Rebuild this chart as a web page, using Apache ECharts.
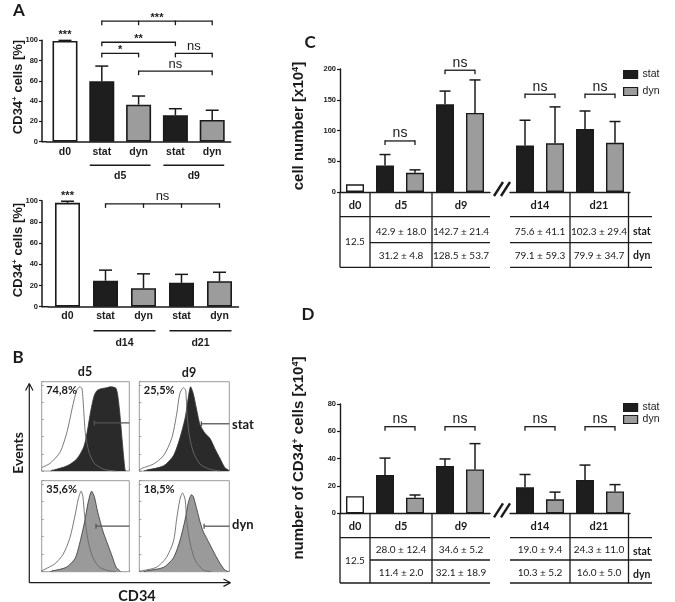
<!DOCTYPE html>
<html><head><meta charset="utf-8">
<script src="https://cdn.jsdelivr.net/npm/echarts@6/dist/echarts.min.js"></script>
<style>html,body{margin:0;padding:0;background:#fff}#c{width:675px;height:602px}</style>
</head><body><div id="c"></div>
<script>
// ================= DATA =================
// Panel A (top): % CD34+ cells, d0 / d5 / d9
const aTopCats = ['d0', 'stat', 'dyn', 'stat', 'dyn'];
const aTopGroups = ['', 'd5', 'd5', 'd9', 'd9'];
const aTopMean = [99.2, 59.5, 36.5, 26.0, 21.5];
const aTopErr = [0.6, 15.0, 8.5, 6.5, 9.5];
const aTopBrackets = [[1, 4, 118.7], [1, 3, 98], [1, 2, 87], [3, 4, 87], [2, 4, 69.5]];
const aTopBracketText = ['***', '**', '*', 'ns', 'ns'];
const aTopBracketTicks = [[1, 2, 3, 4], [1, 3], [1, 2], [3, 4], [2, 4]];
// Panel A (bottom): d0 / d14 / d21
const aBotCats = ['d0', 'stat', 'dyn', 'stat', 'dyn'];
const aBotGroups = ['', 'd14', 'd14', 'd21', 'd21'];
const aBotMean = [98.0, 24.5, 17.5, 22.5, 24.0];
const aBotErr = [1.5, 10.0, 13.5, 8.0, 8.5];
const aBotBrackets = [[1, 4, 97]];
const aBotBracketText = ['ns'];
const aBotBracketTicks = [[1, 2, 3, 4]];
const aD0Sig = '***';

// Panels C / D
const tableDays = ['d0', 'd5', 'd9', 'd14', 'd21'];
const timepoints = ['d5', 'd9', 'd14', 'd21'];
const cD0 = 12.5;
const cStatMean = [42.9, 142.7, 75.6, 102.3];
const cStatSD = [18.0, 21.4, 41.1, 29.4];
const cDynMean = [31.2, 128.5, 79.1, 79.9];
const cDynSD = [4.8, 53.7, 59.3, 34.7];
const cBracketY = [83, 198, 159, 159];
const cYTicks = [0, 50, 100, 150, 200];

const dD0 = 12.5;
const dStatMean = [28.0, 34.6, 19.0, 24.3];
const dStatSD = [12.4, 5.2, 9.4, 11.0];
const dDynMean = [11.4, 32.1, 10.3, 16.0];
const dDynSD = [2.0, 18.9, 5.2, 5.0];
const dBracketY = [63.4, 63.4, 63.4, 63.4];
const dYTicks = [0, 20, 40, 60, 80];
const sigText = 'ns';

// Panel B: flow cytometry histograms (relative CD34 intensity, relative events)
const bPercent = ['74,8%', '25,5%', '35,6%', '18,5%'];
const isoD5stat = [[0,0.04],[0.096,0.09],[0.21,0.22],[0.29,0.46],[0.35,0.74],[0.40,0.94],[0.435,0.98],[0.46,0.96],[0.48,0.70],[0.50,0.42],[0.54,0.22],[0.60,0.09],[0.71,0.02],[0.85,0]];
const cd34D5stat = [[0.10,0],[0.135,0.01],[0.29,0.06],[0.40,0.14],[0.48,0.28],[0.52,0.46],[0.56,0.70],[0.60,0.88],[0.635,0.94],[0.69,0.96],[0.74,0.97],[0.79,0.98],[0.85,0.96],[0.885,0.74],[0.92,0.34],[0.95,0.02],[0.96,0]];
const isoD9stat = [[0,0.01],[0.026,0.03],[0.155,0.08],[0.27,0.18],[0.36,0.38],[0.415,0.66],[0.45,0.90],[0.49,0.97],[0.515,0.94],[0.53,0.66],[0.555,0.42],[0.6,0.22],[0.675,0.08],[0.785,0.02],[0.9,0]];
const cd34D9stat = [[0.05,0],[0.08,0.01],[0.27,0.06],[0.38,0.18],[0.45,0.38],[0.51,0.62],[0.545,0.86],[0.57,0.98],[0.6,0.90],[0.64,0.70],[0.675,0.54],[0.73,0.44],[0.785,0.38],[0.84,0.26],[0.9,0.14],[0.95,0.04],[0.99,0.01],[1,0]];
const isoD5dyn = [[0,0.01],[0.02,0.02],[0.15,0.09],[0.245,0.2],[0.32,0.38],[0.38,0.64],[0.415,0.82],[0.45,0.92],[0.47,0.86],[0.49,0.64],[0.53,0.35],[0.585,0.16],[0.66,0.05],[0.77,0.01],[0.85,0]];
const cd34D5dyn = [[0.1,0],[0.13,0.01],[0.28,0.05],[0.38,0.15],[0.43,0.31],[0.49,0.57],[0.53,0.79],[0.57,0.92],[0.6,0.86],[0.64,0.68],[0.7,0.46],[0.755,0.31],[0.81,0.16],[0.85,0.05],[0.89,0.01],[0.9,0]];
const isoD9dyn = [[0,0.005],[0.026,0.01],[0.19,0.05],[0.30,0.16],[0.38,0.35],[0.415,0.6],[0.45,0.82],[0.48,0.9],[0.51,0.82],[0.525,0.6],[0.56,0.35],[0.62,0.13],[0.71,0.02],[0.8,0]];
const cd34D9dyn = [[0.05,0],[0.08,0.01],[0.27,0.05],[0.38,0.16],[0.45,0.35],[0.51,0.6],[0.545,0.79],[0.58,0.88],[0.6,0.86],[0.64,0.71],[0.675,0.57],[0.71,0.46],[0.75,0.38],[0.785,0.31],[0.84,0.2],[0.9,0.09],[0.95,0.02],[0.99,0]];
const bGateStart = [0.6, 0.69, 0.62, 0.72];
const bGateLevel = [0.56, 0.55, 0.52, 0.52];

// ================= STYLE / LAYOUT =================
const AX = '#1a1a1a';
const STAT = '#1e1e1e', DYN = '#9c9c9c';
const FONT = 'Liberation Sans';
const CAL = 'Lato';

const grids = [], xAxes = [], yAxes = [], series = [], graphics = [];
function addGrid(g, x, y) {
  grids.push(Object.assign({ outerBoundsMode: 'none', containLabel: false }, g));
  const i = grids.length - 1;
  xAxes.push(Object.assign({ gridIndex: i }, x));
  yAxes.push(Object.assign({ gridIndex: i }, y));
  return i;
}
function txt(x, y, text, o) {
  o = o || {};
  graphics.push({
    type: 'text', x: x, y: y, rotation: o.rot || 0, z: 10,
    style: {
      text: text, fill: o.color || AX, align: o.align || 'center', verticalAlign: o.va || 'middle',
      fontFamily: o.family || FONT, fontWeight: o.weight || 'normal', fontSize: o.size || 10,
      rich: o.rich
    }
  });
}
function gline(x1, y1, x2, y2, w, c) {
  graphics.push({ type: 'line', z: 10, shape: { x1, y1, x2, y2 }, style: { stroke: c || AX, lineWidth: w || 1 } });
}

function errSeries(gi, data, capHalf) {
  return {
    type: 'custom', xAxisIndex: gi, yAxisIndex: gi, data: data, clip: false, z: 3,
    renderItem(params, api) {
      const x = api.value(0), m = api.value(1), e = api.value(2);
      const p0 = api.coord([x, m]), p1 = api.coord([x, m + e]);
      return { type: 'group', children: [
        { type: 'line', shape: { x1: p0[0], y1: p0[1], x2: p1[0], y2: p1[1] }, style: { stroke: AX, lineWidth: 1.5 } },
        { type: 'line', shape: { x1: p1[0] - capHalf, y1: p1[1], x2: p1[0] + capHalf, y2: p1[1] }, style: { stroke: AX, lineWidth: 1.5 } }
      ] };
    }
  };
}
function bracketSeries(gi, br, texts, ticks, o) {
  return {
    type: 'custom', xAxisIndex: gi, yAxisIndex: gi, clip: false, z: 3,
    data: br.map(b => [b[0], b[2], b[1]]),
    renderItem(params, api) {
      const i = params.dataIndex, b = br[i];
      const p1 = api.coord([b[0], b[2]]), p2 = api.coord([b[1], b[2]]);
      const ch = [{ type: 'line', shape: { x1: p1[0], y1: p1[1], x2: p2[0], y2: p2[1] }, style: { stroke: AX, lineWidth: 1.3 } }];
      ticks[i].forEach(t => {
        const p = api.coord([t, b[2]]);
        ch.push({ type: 'line', shape: { x1: p[0], y1: p[1] - 0.6, x2: p[0], y2: p[1] + o.tick }, style: { stroke: AX, lineWidth: 1.3 } });
      });
      const star = texts[i].indexOf('*') >= 0;
      ch.push({ type: 'text', x: (p1[0] + p2[0]) / 2, y: p1[1] - (star ? o.starGap : o.nsGap),
        style: { text: texts[i], align: 'center', verticalAlign: 'middle', fontFamily: FONT,
          fontSize: star ? o.starSize : o.nsSize, fontWeight: star ? 'bold' : 'normal', fill: AX } });
      return { type: 'group', children: ch };
    }
  };
}

// ---------- Panel A ----------
function panelA(cats, groups, mean, err, br, brText, brTicks, g) {
  const keys = cats.map((c, i) => (groups[i] ? groups[i] + ' ' : '') + c);
  const gi = addGrid({ left: g.left, top: g.top, width: g.width, height: g.height },
    { type: 'category', data: keys, axisLine: { lineStyle: { color: AX, width: 1.5 } }, axisTick: { show: false },
      axisLabel: { interval: 0, formatter: v => v.split(' ').pop(), fontFamily: FONT, fontWeight: 'bold', fontSize: 10.5, color: AX, margin: g.labelMargin } },
    { type: 'value', min: 0, max: 100, interval: 20, offset: g.yOffset,
      axisLine: { show: true, lineStyle: { color: AX, width: 1.5 } }, axisTick: { show: true, length: 3, lineStyle: { color: AX, width: 1.2 } },
      axisLabel: { fontFamily: FONT, fontWeight: 'bold', fontSize: 7.5, color: AX, margin: 4 }, splitLine: { show: false } });
  series.push({
    type: 'bar', xAxisIndex: gi, yAxisIndex: gi, barWidth: g.barWidth, z: 2,
    data: mean.map((m, i) => ({
      value: m,
      itemStyle: { color: cats[i] === 'd0' ? '#ffffff' : (cats[i] === 'stat' ? STAT : DYN), borderColor: AX, borderWidth: 1.6 },
      label: i === 0 ? { show: true, position: 'top', distance: g.sigDist, formatter: aD0Sig, fontFamily: FONT, fontWeight: 'bold', fontSize: 11, color: AX } : { show: false }
    }))
  });
  series.push(errSeries(gi, mean.map((m, i) => [i, m, err[i]]), 6.5));
  series.push(bracketSeries(gi, br, brText, brTicks, { tick: 4, starGap: 3.5, nsGap: 7, starSize: 11, nsSize: 13 }));
  // group underline + label
  const spans = [];
  groups.forEach((gname, i) => {
    if (!gname) return;
    const last = spans[spans.length - 1];
    if (last && last.name === gname) last.end = i; else spans.push({ name: gname, start: i, end: i });
  });
  series.push({
    type: 'custom', xAxisIndex: gi, yAxisIndex: gi, clip: false, z: 3,
    data: spans.map(s => [s.start, 0, s.end]),
    renderItem(params, api) {
      const s = spans[params.dataIndex];
      const p1 = api.coord([s.start, 0]), p2 = api.coord([s.end, 0]);
      const y = p1[1] + g.lineOff;
      return { type: 'group', children: [
        { type: 'line', shape: { x1: p1[0] - 12, y1: y, x2: p2[0] + 12, y2: y }, style: { stroke: AX, lineWidth: 1.4 } },
        { type: 'text', x: (p1[0] + p2[0]) / 2, y: p1[1] + g.labelOff, style: { text: s.name, align: 'center', verticalAlign: 'middle', fontFamily: FONT, fontWeight: 'bold', fontSize: 10.5, fill: AX } }
      ] };
    }
  });
  // join x axis to offset y axis
  gline(g.left - g.yOffset, g.top + g.height, g.left, g.top + g.height, 1.5);
}
panelA(aTopCats, aTopGroups, aTopMean, aTopErr, aTopBrackets, aTopBracketText, aTopBracketTicks,
  { left: 46.6, top: 40.2, width: 184, height: 101.5, yOffset: 4.6, barWidth: 25, labelMargin: 5, sigDist: 1, lineOff: 23.5, labelOff: 34.5 });
panelA(aBotCats, aBotGroups, aBotMean, aBotErr, aBotBrackets, aBotBracketText, aBotBracketTicks,
  { left: 48.5, top: 200.7, width: 190, height: 106, yOffset: 6.5, barWidth: 25, labelMargin: 4, sigDist: 1, lineOff: 24, labelOff: 36 });

// ---------- Panels C & D ----------
function panelCD(top, height, max, interval, d0, sMean, sSD, yMean, ySD, brY, legendTop, legendGap) {
  const yBase = { type: 'value', min: 0, max: max, interval: interval, splitLine: { show: false } };
  const gl = addGrid({ left: 340, top: top, width: 150, height: height },
    { type: 'category', data: ['d0', 'd5 stat', 'd5 dyn', 'd9 stat', 'd9 dyn'], axisLine: { lineStyle: { color: AX, width: 1.4 } }, axisTick: { show: false }, axisLabel: { show: false } },
    Object.assign({}, yBase, { axisLine: { show: true, lineStyle: { color: AX, width: 1.4 } }, axisTick: { show: true, length: 3, lineStyle: { color: AX, width: 1.2 } },
      axisLabel: { fontFamily: FONT, fontWeight: 'bold', fontSize: 7.5, color: AX, margin: 4 } }));
  const gr = addGrid({ left: 510, top: top, width: 120, height: height },
    { type: 'category', data: ['d14 stat', 'd14 dyn', 'd21 stat', 'd21 dyn'], axisLine: { lineStyle: { color: AX, width: 1.4 } }, axisTick: { show: false }, axisLabel: { show: false } },
    Object.assign({}, yBase, { show: false }));
  const bw = 18;
  const barStyle = c => ({ color: c, borderColor: AX, borderWidth: 1.4 });
  // slot mapping
  const left = { stat: [null, null, null, null, null], dyn: [null, null, null, null, null] };
  const right = { stat: [null, null, null, null], dyn: [null, null, null, null] };
  const errL = [], errR = [], brL = [], brR = [];
  timepoints.forEach((t, i) => {
    if (i < 2) {
      const s = 1 + 2 * i;
      left.stat[s] = sMean[i]; left.dyn[s + 1] = yMean[i];
      errL.push([s, sMean[i], sSD[i]], [s + 1, yMean[i], ySD[i]]);
      brL.push([s, s + 1, brY[i]]);
    } else {
      const s = 2 * (i - 2);
      right.stat[s] = sMean[i]; right.dyn[s + 1] = yMean[i];
      errR.push([s, sMean[i], sSD[i]], [s + 1, yMean[i], ySD[i]]);
      brR.push([s, s + 1, brY[i]]);
    }
  });
  series.push({ name: 'd0', type: 'bar', xAxisIndex: gl, yAxisIndex: gl, barWidth: bw, barGap: '-100%', itemStyle: barStyle('#fff'), data: [d0, null, null, null, null] });
  series.push({ name: 'stat', type: 'bar', xAxisIndex: gl, yAxisIndex: gl, barWidth: bw, barGap: '-100%', itemStyle: barStyle(STAT), data: left.stat });
  series.push({ name: 'dyn', type: 'bar', xAxisIndex: gl, yAxisIndex: gl, barWidth: bw, barGap: '-100%', itemStyle: barStyle(DYN), data: left.dyn });
  series.push({ name: 'stat', type: 'bar', xAxisIndex: gr, yAxisIndex: gr, barWidth: bw, barGap: '-100%', itemStyle: barStyle(STAT), data: right.stat });
  series.push({ name: 'dyn', type: 'bar', xAxisIndex: gr, yAxisIndex: gr, barWidth: bw, barGap: '-100%', itemStyle: barStyle(DYN), data: right.dyn });
  series.push(errSeries(gl, errL, 5.5));
  series.push(errSeries(gr, errR, 5.5));
  const bo = { tick: 4, starGap: 3, nsGap: 7.5, starSize: 11, nsSize: 14 };
  series.push(bracketSeries(gl, brL, brL.map(() => sigText), brL.map(b => [b[0], b[1]]), bo));
  series.push(bracketSeries(gr, brR, brR.map(() => sigText), brR.map(b => [b[0], b[1]]), bo));
  return { legend: {
    data: ['stat', 'dyn'], left: 623, top: legendTop, orient: 'vertical', icon: 'rect', itemWidth: 14, itemHeight: 8,
    itemGap: legendGap, itemStyle: { borderColor: AX, borderWidth: 1.2 }, selectedMode: false,
    textStyle: { fontFamily: FONT, fontSize: 10.5, color: AX, padding: [0, 0, 0, 0] }, padding: 0
  } };
}
const lc = panelCD(69, 123, 200, 50, cD0, cStatMean, cStatSD, cDynMean, cDynSD, cBracketY, 69, 6);
const ld = panelCD(404, 109.3, 80, 20, dD0, dStatMean, dStatSD, dDynMean, dDynSD, dBracketY, 402, 1);

// tables
function table(y0, r, d0, sMean, sSD, yMean, ySD) {
  [340, 370, 432, 570, 628.5].forEach(x => gline(x, y0, x, r.l3, 1.3));
  [[r.l1, 340], [r.l2, 370], [r.l3, 340]].forEach(([y, x0]) => { gline(x0, y, 490, y, 1.3); gline(510, y, 652, y, 1.3); });
  const cols = [355, 401, 461, 540, 599];
  tableDays.forEach((d, i) => txt(cols[i], r.hdr, d, { family: CAL, weight: 'bold', size: 11 }));
  txt(cols[0], (r.l1 + r.l3) / 2, d0.toFixed(1), { family: CAL, size: 10 });
  timepoints.forEach((t, i) => {
    txt(cols[i + 1], r.s, sMean[i].toFixed(1) + ' \u00b1 ' + sSD[i].toFixed(1), { family: CAL, size: 10 });
    txt(cols[i + 1], r.d, yMean[i].toFixed(1) + ' \u00b1 ' + ySD[i].toFixed(1), { family: CAL, size: 10 });
  });
  txt(633, r.s + (r.lblShift || 0), 'stat', { family: CAL, weight: 'bold', size: 10.5, align: 'left' });
  txt(633, r.d + (r.lblShift || 0), 'dyn', { family: CAL, weight: 'bold', size: 10.5, align: 'left' });
  // axis break marks
  const yb = y0 - 3;
  [0, 7].forEach(dx => gline(494 + dx, yb + 7, 503 + dx, yb - 7, 2.4));
}
table(192, { hdr: 205, l1: 216.7, s: 231.7, l2: 242.7, d: 255.7, l3: 267.3 }, cD0, cStatMean, cStatSD, cDynMean, cDynSD);
table(513.3, { hdr: 526.7, l1: 537.7, s: 550, l2: 560, d: 573, l3: 583, lblShift: 2 }, dD0, dStatMean, dStatSD, dDynMean, dDynSD);

// ---------- Panel B ----------
const bBoxes = [
  { left: 41.7, top: 381.7, width: 87.6, height: 89.3, iso: isoD5stat, pos: cd34D5stat, fill: '#2a2a2a' },
  { left: 139.3, top: 381.7, width: 90, height: 89.3, iso: isoD9stat, pos: cd34D9stat, fill: '#2a2a2a' },
  { left: 41.7, top: 480.7, width: 87.6, height: 91, iso: isoD5dyn, pos: cd34D5dyn, fill: '#9a9a9a' },
  { left: 139.3, top: 480.7, width: 90, height: 91, iso: isoD9dyn, pos: cd34D9dyn, fill: '#9a9a9a' }
];
bBoxes.forEach((b, k) => {
  const gi = addGrid({ left: b.left, top: b.top, width: b.width, height: b.height, show: true, borderColor: '#9a9a9a', borderWidth: 1, backgroundColor: '#fff' },
    { type: 'value', min: 0, max: 1, interval: 0.125, axisLabel: { show: false }, axisLine: { show: false }, splitLine: { show: false },
      axisTick: { show: true, inside: true, length: 2, lineStyle: { color: '#888', width: 0.8 } } },
    { type: 'value', min: 0, max: 1.04, interval: 0.2, axisLabel: { show: false }, axisLine: { show: false }, splitLine: { show: false },
      axisTick: { show: true, inside: true, length: 2, lineStyle: { color: '#888', width: 0.8 } } });
  series.push({ type: 'line', xAxisIndex: gi, yAxisIndex: gi, data: b.pos, showSymbol: false, smooth: 0.25, z: 2,
    lineStyle: { color: '#333', width: 0.8 }, areaStyle: { color: b.fill, opacity: 1 } });
  series.push({ type: 'line', xAxisIndex: gi, yAxisIndex: gi, data: b.iso, showSymbol: false, smooth: 0.25, z: 3,
    lineStyle: { color: '#6a6a6a', width: 0.9 } });
  series.push({ type: 'custom', xAxisIndex: gi, yAxisIndex: gi, clip: false, z: 4, data: [[bGateStart[k], bGateLevel[k]]],
    renderItem(params, api) {
      const p0 = api.coord([api.value(0), api.value(1)]), p1 = api.coord([1, api.value(1)]);
      return { type: 'group', children: [
        { type: 'line', shape: { x1: p0[0], y1: p0[1], x2: p1[0], y2: p1[1] }, style: { stroke: '#555', lineWidth: 1.3 } },
        { type: 'line', shape: { x1: p0[0], y1: p0[1] - 2.5, x2: p0[0], y2: p0[1] + 2.5 }, style: { stroke: '#555', lineWidth: 1.3 } }
      ] };
    } });
  txt(b.left + 4.5, b.top + 9, bPercent[k], { family: CAL, weight: 'bold', size: 11, align: 'left' });
});
// B axes with arrows
gline(29.3, 582.7, 29.3, 384, 1.2);
gline(25.6, 390.5, 29.3, 383.5, 1.2); gline(33, 390.5, 29.3, 383.5, 1.2);
gline(29.3, 582.7, 230, 582.7, 1.2);
gline(223.5, 579, 230.5, 582.7, 1.2); gline(223.5, 586.4, 230.5, 582.7, 1.2);
txt(85, 372, 'd5', { family: CAL, weight: 'bold', size: 12.5 });
txt(189, 373, 'd9', { family: CAL, weight: 'bold', size: 12.5 });
txt(232, 424.5, 'stat', { family: CAL, weight: 'bold', size: 13, align: 'left' });
txt(232, 525, 'dyn', { family: CAL, weight: 'bold', size: 13, align: 'left' });
txt(18, 453, 'Events', { family: CAL, weight: 'bold', size: 14, rot: Math.PI / 2 });
txt(137, 596, 'CD34', { family: CAL, weight: 'bold', size: 14.5 });

// panel letters
txt(19, 11, 'A', { family: CAL, weight: 'bold', size: 17 });
txt(18, 357.5, 'B', { family: CAL, weight: 'bold', size: 17 });
txt(310, 43, 'C', { family: CAL, weight: 'bold', size: 17 });
txt(308, 315, 'D', { family: CAL, weight: 'bold', size: 17 });

// axis titles with superscripts
function richT(size) {
  return {
    m: { fontFamily: FONT, fontWeight: 'bold', fontSize: size, fill: AX },
    s: { fontFamily: FONT, fontWeight: 'bold', fontSize: size * 0.62, fill: AX, verticalAlign: 'top', padding: [0, 0, size * 0.45, 0] }
  };
}
txt(18, 87, '{m|CD34}{s|+}{m| cells [%]}', { rot: Math.PI / 2, rich: richT(13) });
txt(18, 250, '{m|CD34}{s|+}{m| cells [%]}', { rot: Math.PI / 2, rich: richT(13) });
txt(299, 126, '{m|cell number [x10}{s|4}{m|]}', { rot: Math.PI / 2, rich: richT(15) });
txt(299, 458, '{m|number of CD34}{s|+}{m| cells [x10}{s|4}{m|]}', { rot: Math.PI / 2, rich: richT(15) });

const chart = echarts.init(document.getElementById('c'), null, { renderer: 'canvas', width: 675, height: 602 });
chart.setOption({
  animation: false,
  backgroundColor: '#fff',
  textStyle: { fontFamily: FONT },
  grid: grids, xAxis: xAxes, yAxis: yAxes, series: series,
  legend: [lc.legend, ld.legend],
  graphic: graphics
});
</script></body></html>
